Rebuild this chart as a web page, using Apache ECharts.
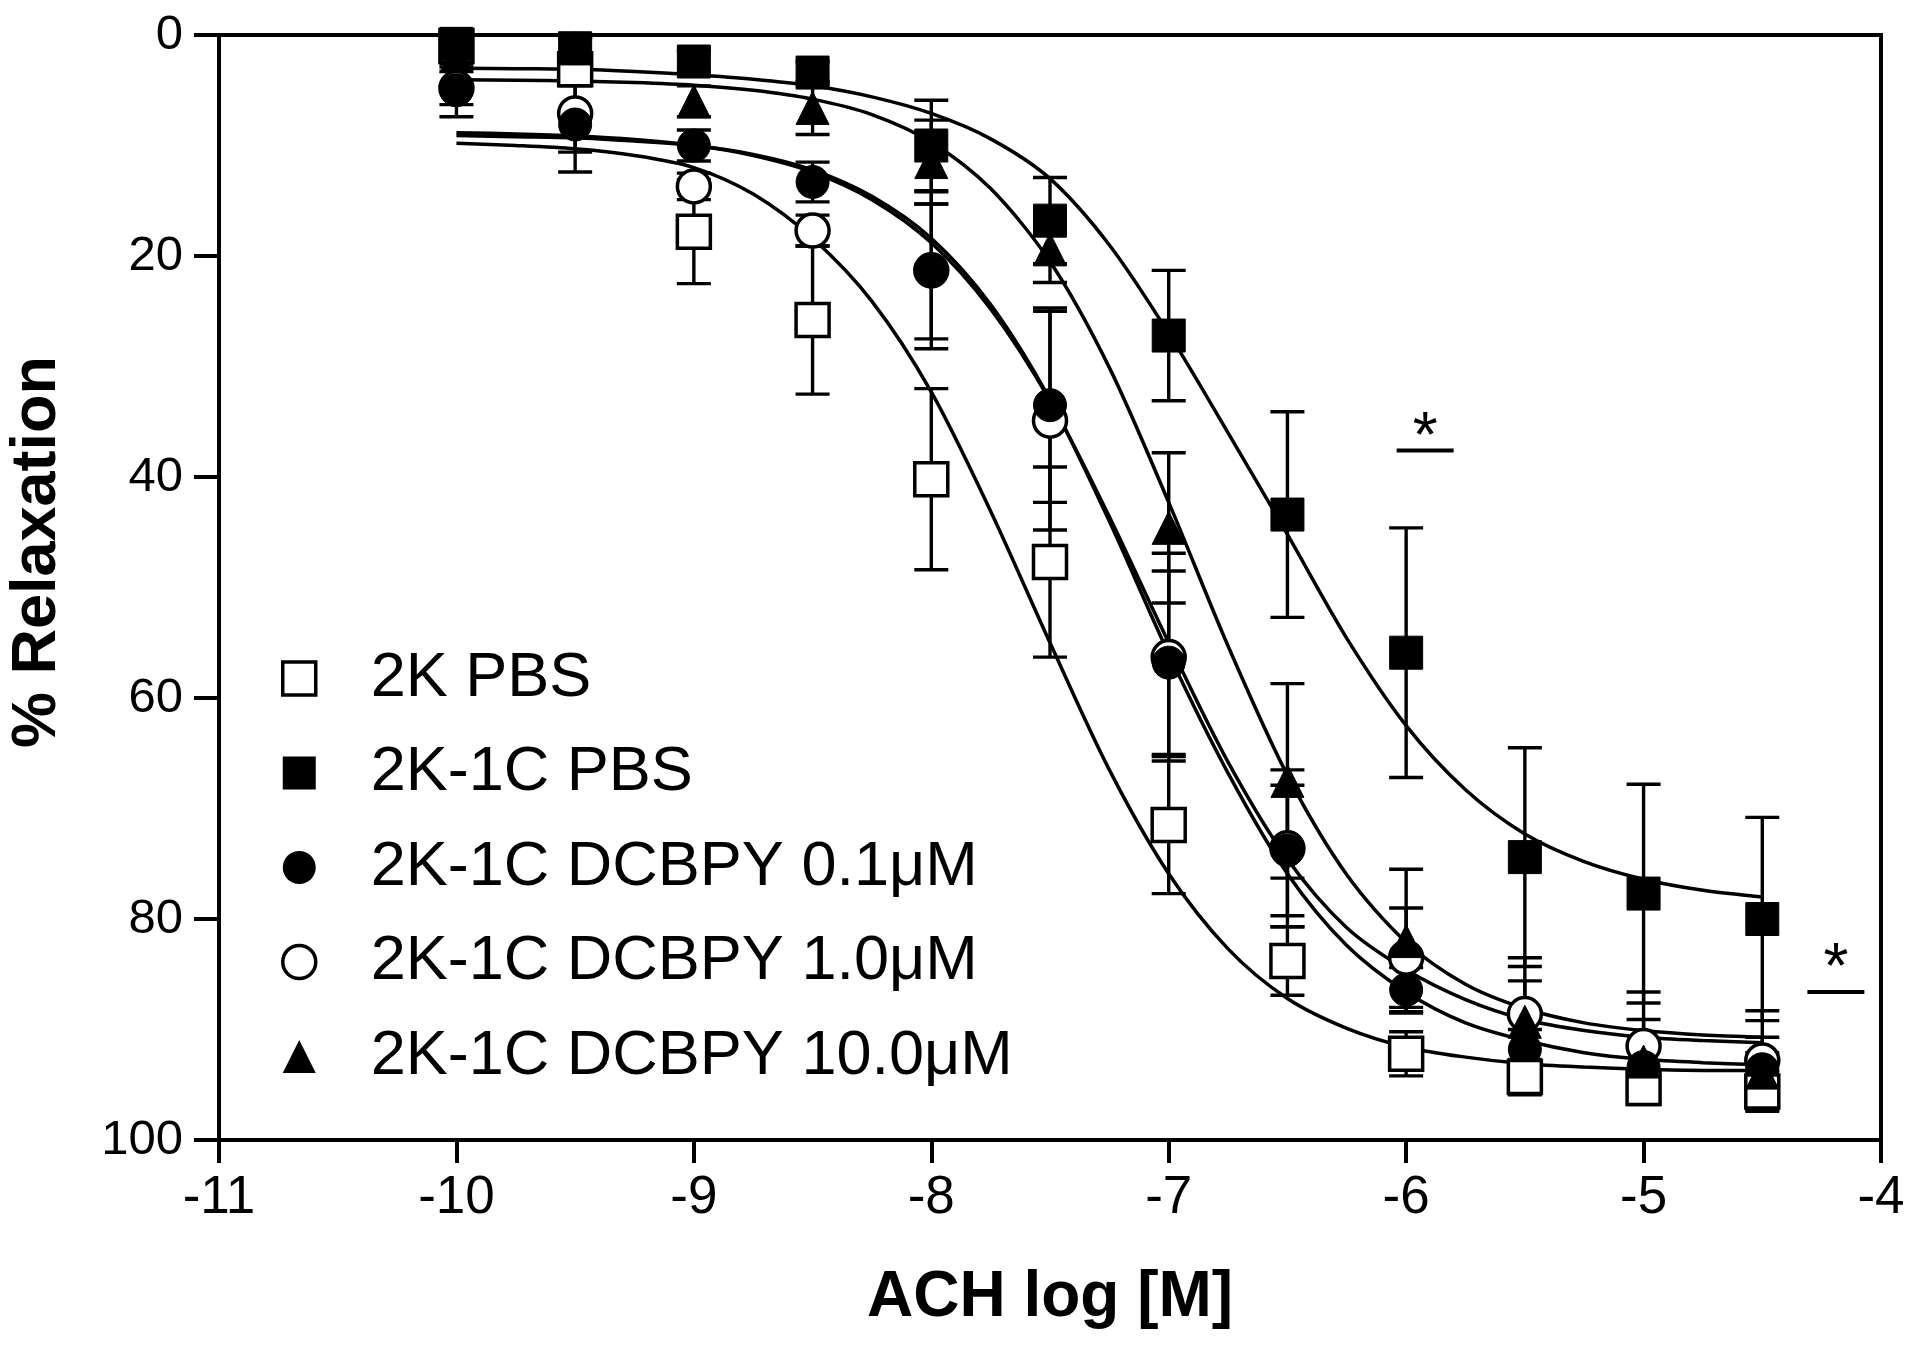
<!DOCTYPE html>
<html>
<head>
<meta charset="utf-8">
<script src="https://cdn.jsdelivr.net/npm/echarts@6/dist/echarts.min.js"></script>
<style>
html,body{margin:0;padding:0;background:#fff;}
#chart{width:1920px;height:1347px;}
</style>
</head>
<body>
<div id="chart"></div>
<script>
// ---- data ----
const doseX = [-10, -9.5, -9, -8.5, -8, -7.5, -7, -6.5, -6, -5.5, -5, -4.5];

const pbs2kMean   = [1.0, 3.1, 17.8, 25.8, 40.2, 47.7, 71.5, 83.8, 92.2, 94.3, 95.3, 95.6];
const pbs2kSem    = [1.0, 1.5, 4.7, 6.7, 8.2, 8.6, 6.2, 3.1, 2.0, 1.6, 1.5, 1.8];
const pbs2k1cMean = [0.8, 1.2, 2.4, 3.4, 10.0, 16.8, 27.2, 43.4, 55.9, 74.4, 77.7, 80.0];
const pbs2k1cSem  = [1.2, 1.0, 1.0, 1.0, 4.1, 3.9, 5.9, 9.3, 11.3, 9.9, 9.9, 9.2];
const d01Mean     = [5.0, 8.1, 10.0, 13.3, 21.4, 33.5, 56.8, 73.8, 86.4, 91.8, 93.4, 93.6];
const d01Sem      = [2.4, 4.3, 1.4, 1.8, 6.1, 8.8, 8.3, 5.9, 2.0, 1.8, 1.5, 1.5];
const d10Mean     = [4.8, 7.1, 13.7, 17.7, 21.3, 34.9, 56.3, 73.6, 83.5, 88.6, 91.5, 92.8];
const d10Sem      = [1.5, 3.5, 1.2, 1.4, 7.1, 9.9, 9.4, 7.1, 4.5, 5.1, 4.9, 4.5];
const d100Mean    = [1.9, 1.2, 6.0, 6.6, 11.5, 19.4, 44.6, 67.5, 82.0, 89.3, 92.9, 93.9];
const d100Sem     = [1.0, 1.0, 1.4, 2.4, 3.8, 3.0, 6.8, 8.8, 6.5, 3.7, 3.8, 3.2];

// fitted curves
const curveX = [-10, -9.75, -9.5, -9.25, -9, -8.75, -8.5, -8.25, -8, -7.75, -7.5, -7.25, -7, -6.75, -6.5, -6.25, -6, -5.75, -5.5, -5.25, -5, -4.75, -4.5];
const curvePbs2k   = [9.8, 10.0, 10.3, 10.9, 12.0, 14.4, 18.4, 24.1, 32.3, 43.1, 55.0, 66.5, 75.9, 82.7, 87.2, 89.9, 91.6, 92.5, 93.1, 93.4, 93.6, 93.7, 93.7];
const curvePbs2k1c = [3.0, 3.05, 3.1, 3.3, 3.6, 4.0, 4.6, 5.6, 7.1, 9.4, 13.0, 19.0, 27.0, 36.0, 45.2, 54.6, 62.5, 68.3, 72.3, 74.8, 76.4, 77.4, 78.0];
const curveD01     = [9.1, 9.2, 9.3, 9.6, 10.0, 10.8, 12.2, 14.6, 18.4, 24.4, 33.0, 44.0, 56.0, 66.8, 75.9, 82.4, 86.6, 89.4, 91.0, 92.1, 92.7, 93.0, 93.2];
const curveD10     = [8.85, 8.95, 9.13, 9.45, 9.98, 10.9, 12.4, 14.9, 18.8, 24.8, 33.1, 43.6, 55.0, 65.8, 74.6, 80.8, 84.6, 87.3, 89.1, 90.1, 90.7, 91.0, 91.2];
const curveD100    = [4.05, 4.1, 4.16, 4.3, 4.54, 5.0, 5.8, 7.2, 9.7, 13.9, 20.5, 30.1, 42.3, 55.3, 67.0, 76.0, 82.1, 85.9, 88.1, 89.4, 90.1, 90.5, 90.7];

// significance marks: [xStart, xEnd, lineY, starY]
const sigMarks = [[-6.04, -5.80, 37.6, 35.3], [-4.31, -4.07, 86.6, 83.4]];

const xTicks = [-11, -10, -9, -8, -7, -6, -5, -4];
const yTicks = [0, 20, 40, 60, 80, 100];

const seriesNames = ['2K PBS', '2K-1C PBS', '2K-1C DCBPY 0.1\u03bcM', '2K-1C DCBPY 1.0\u03bcM', '2K-1C DCBPY 10.0\u03bcM'];

// ---- build ----
const FONT = '"Liberation Sans", Arial, Helvetica, sans-serif';
const pairs = (xs, ys) => xs.map((x, i) => [x, ys[i]]);
const triples = (xs, m, s) => xs.map((x, i) => [x, m[i], s[i]]);

function curveSeries(name, ys) {
  return {
    name: name, type: 'line', data: pairs(curveX, ys), smooth: 0.3,
    symbol: 'none', lineStyle: {color: '#000', width: 3.5, opacity: 1}, z: 2, silent: true
  };
}
function errSeries(name, m, s) {
  return {
    name: name, type: 'custom', data: triples(doseX, m, s), encode: {x: 0, y: 1}, z: 3, silent: true,
    renderItem: function (params, api) {
      const x = api.value(0), mean = api.value(1), sem = api.value(2);
      const p1 = api.coord([x, mean - sem]);
      const p2 = api.coord([x, mean + sem]);
      const hw = 17;
      const st = {stroke: '#000', lineWidth: 3.4};
      return {
        type: 'group', children: [
          {type: 'line', shape: {x1: p1[0], y1: p1[1], x2: p2[0], y2: p2[1]}, style: st},
          {type: 'line', shape: {x1: p1[0] - hw, y1: p1[1], x2: p1[0] + hw, y2: p1[1]}, style: st},
          {type: 'line', shape: {x1: p2[0] - hw, y1: p2[1], x2: p2[0] + hw, y2: p2[1]}, style: st}
        ]
      };
    }
  };
}
function pointSeries(name, m, symbol, filled, size) {
  return {
    name: name, type: 'scatter', data: pairs(doseX, m), symbol: symbol, symbolSize: size,
    itemStyle: filled ? {color: '#000', borderColor: '#000', borderWidth: 1, opacity: 1}
                      : {color: '#fff', borderColor: '#000', borderWidth: 3.5, opacity: 1},
    emphasis: {disabled: true},
    z: 4, clip: false
  };
}

const option = {
  backgroundColor: '#fff',
  animation: false,
  grid: {left: 219, right: 39, top: 35, bottom: 207, show: true, borderColor: '#000', borderWidth: 4, outerBoundsMode: 'none'},
  xAxis: {
    type: 'value', min: xTicks[0], max: xTicks[xTicks.length - 1], interval: 1,
    axisLine: {show: true, onZero: false, lineStyle: {color: '#000', width: 4}},
    axisTick: {show: true, inside: false, length: 23, lineStyle: {color: '#000', width: 4}},
    axisLabel: {color: '#000', fontSize: 53, fontFamily: FONT, margin: 32},
    splitLine: {show: false}
  },
  yAxis: {
    type: 'value', inverse: true, min: yTicks[0], max: yTicks[yTicks.length - 1], interval: 20,
    axisLine: {show: true, onZero: false, lineStyle: {color: '#000', width: 4}},
    axisTick: {show: true, inside: false, length: 25, lineStyle: {color: '#000', width: 4}},
    axisLabel: {color: '#000', fontSize: 49, fontFamily: FONT, margin: 36},
    splitLine: {show: false}
  },
  legend: {
    orient: 'vertical', left: 276, top: 642, itemWidth: 33, itemHeight: 33, itemGap: 31.5,
    selectedMode: false,
    textStyle: {color: '#000', fontSize: 63, fontFamily: FONT, lineHeight: 60, padding: [0, 0, 0, 50]},
    data: [
      {name: seriesNames[0], icon: 'rect', itemStyle: {color: '#fff', borderColor: '#000', borderWidth: 3.5, opacity: 1}},
      {name: seriesNames[1], icon: 'rect', itemStyle: {color: '#000', borderColor: '#000', borderWidth: 0, opacity: 1}},
      {name: seriesNames[2], icon: 'circle', itemStyle: {color: '#000', borderColor: '#000', borderWidth: 0, opacity: 1}},
      {name: seriesNames[3], icon: 'circle', itemStyle: {color: '#fff', borderColor: '#000', borderWidth: 3.5, opacity: 1}},
      {name: seriesNames[4], icon: 'triangle', itemStyle: {color: '#000', borderColor: '#000', borderWidth: 0, opacity: 1}}
    ]
  },
  graphic: [
    {type: 'text', x: 38, y: 552, rotation: Math.PI / 2,
     style: {text: '% Relaxation', font: 'bold 63px ' + FONT, fill: '#000', textAlign: 'center', textVerticalAlign: 'middle'}},
    {type: 'text', x: 1050, y: 1298,
     style: {text: 'ACH log [M]', font: 'bold 64px ' + FONT, fill: '#000', textAlign: 'center', textVerticalAlign: 'middle'}}
  ],
  series: [
    curveSeries('c0', curvePbs2k),
    curveSeries('c1', curvePbs2k1c),
    curveSeries('c2', curveD01),
    curveSeries('c3', curveD10),
    curveSeries('c4', curveD100),
    errSeries('e3', d10Mean, d10Sem),
    errSeries('e2', d01Mean, d01Sem),
    errSeries('e4', d100Mean, d100Sem),
    errSeries('e0', pbs2kMean, pbs2kSem),
    errSeries('e1', pbs2k1cMean, pbs2k1cSem),
    pointSeries(seriesNames[3], d10Mean, 'circle', false, 33),
    pointSeries(seriesNames[2], d01Mean, 'circle', true, 33),
    pointSeries(seriesNames[0], pbs2kMean, 'rect', false, 33),
    pointSeries(seriesNames[4], d100Mean, 'triangle', true, 33),
    pointSeries(seriesNames[1], pbs2k1cMean, 'rect', true, 33),
    {
      name: 'sig', type: 'custom', data: sigMarks, encode: {x: [0, 1], y: 2}, z: 5, silent: true, clip: false,
      renderItem: function (params, api) {
        const a = api.coord([api.value(0), api.value(2)]);
        const b = api.coord([api.value(1), api.value(2)]);
        const s = api.coord([(api.value(0) + api.value(1)) / 2, api.value(3)]);
        return {
          type: 'group', children: [
            {type: 'line', shape: {x1: a[0], y1: a[1], x2: b[0], y2: b[1]}, style: {stroke: '#000', lineWidth: 4}},
            {type: 'text', x: s[0], y: s[1] + 14,
             style: {text: '*', font: '64px ' + FONT, fill: '#000', textAlign: 'center', textVerticalAlign: 'middle'}}
          ]
        };
      }
    }
  ]
};

const chart = echarts.init(document.getElementById('chart'), null, {renderer: 'canvas'});
chart.setOption(option);
</script>
</body>
</html>
